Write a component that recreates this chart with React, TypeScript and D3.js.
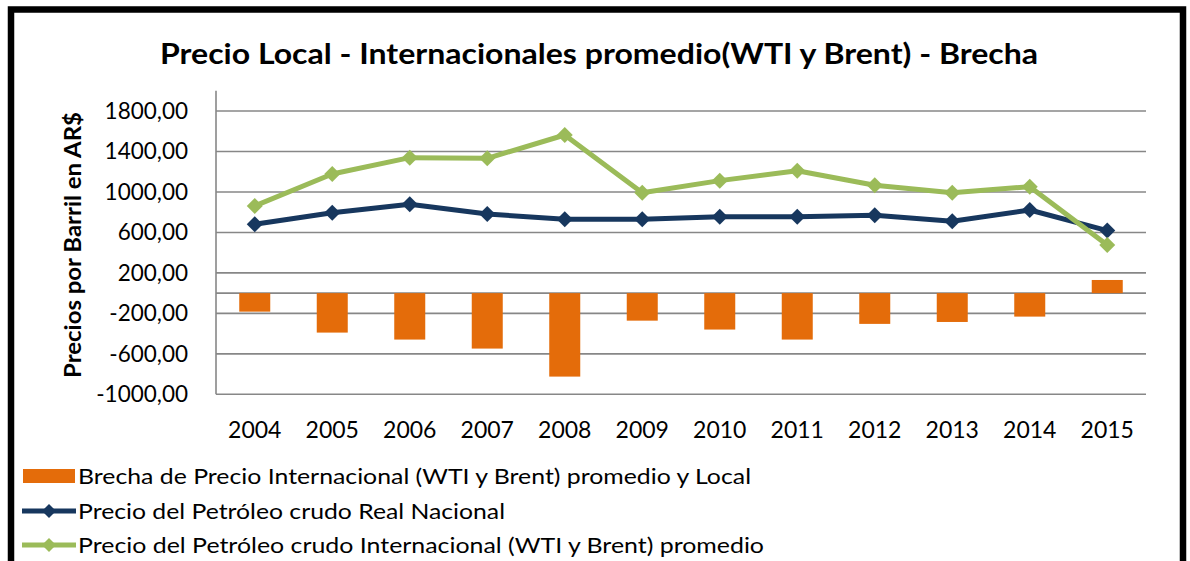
import React from "react";
import * as d3 from "d3";

// data
const years = ["2004", "2005", "2006", "2007", "2008", "2009", "2010", "2011", "2012", "2013", "2014", "2015"];
const brecha = [-183, -390, -459, -548, -825, -272, -360, -459, -304, -285, -232, 130];
const precioNacional = [681, 795, 878, 782, 730, 730, 756, 756, 770, 710, 822, 618];
const precioInternacional = [862, 1178, 1339, 1333, 1563, 993, 1112, 1210, 1066, 993, 1052, 476];
const yTicks = [-1000, -600, -200, 200, 600, 1000, 1400, 1800];

const legendLabels = [
  "Brecha de Precio Internacional (WTI y Brent) promedio y Local",
  "Precio del Petróleo crudo Real Nacional",
  "Precio del Petróleo crudo Internacional (WTI y Brent) promedio",
];

const ORANGE = "#E46C0A";
const NAVY = "#17375E";
const GREEN = "#9BBB59";
const GRID = "#878787";
const FONT = "Lato, 'Open Sans', sans-serif";

const fmt = d3
  .formatLocale({ decimal: ",", thousands: ".", grouping: [3], currency: ["$", ""], minus: "-" })
  .format(".2f");

const diamond = (cx: number, cy: number, r: number) =>
  `M${cx},${cy - r}L${cx + r},${cy}L${cx},${cy + r}L${cx - r},${cy}Z`;

export default function App() {
  const width = 1190;
  const height = 561;

  const x = d3.scaleBand().domain(years).range([216, 1146]).padding(0);
  const y = d3.scaleLinear().domain([-1000, 2000]).range([394.3, 90.8]);
  const cx = (d: string) => (x(d) as number) + x.bandwidth() / 2;
  const barW = x.bandwidth() * 0.4;

  const line = d3
    .line<number>()
    .x((_, i) => cx(years[i]))
    .y((d) => y(d));

  const legendY = [476, 511, 545];

  return (
    <svg
      width={width}
      height={height}
      style={{ position: "absolute", left: 0, top: 0, background: "#fff" }}
      fontFamily={FONT}
    >
      <rect x={0} y={0} width={width} height={height} fill="#fff" />
      {/* frame */}
      <rect x={11} y={9.5} width={1172} height={700} fill="none" stroke="#000" strokeWidth={6.5} />

      {/* title */}
      <text
        x={599}
        y={64}
        textAnchor="middle"
        fontSize={29}
        fontWeight="bold"
        textLength={878}
        lengthAdjust="spacingAndGlyphs"
      >
        Precio Local - Internacionales promedio(WTI y Brent) - Brecha
      </text>

      {/* y axis title */}
      <text
        transform="translate(81,245) rotate(-90)"
        textAnchor="middle"
        fontSize={22}
        fontWeight="bold"
        textLength={266}
        lengthAdjust="spacingAndGlyphs"
      >
        Precios por Barril en AR$
      </text>

      {/* gridlines */}
      {yTicks.map((t) => (
        <line key={t} x1={216} x2={1146} y1={y(t)} y2={y(t)} stroke={GRID} strokeWidth={1.6} />
      ))}
      <line x1={216} x2={1146} y1={y(0)} y2={y(0)} stroke={GRID} strokeWidth={1.6} />
      <line x1={216} x2={216} y1={y(2000)} y2={y(-1000)} stroke={GRID} strokeWidth={1.6} />

      {/* y tick labels */}
      {yTicks.map((t) => (
        <text key={t} x={188} y={y(t)} dy="0.35em" textAnchor="end" fontSize={22.5}>
          {fmt(t)}
        </text>
      ))}

      {/* x tick labels */}
      {years.map((d) => (
        <text key={d} x={cx(d)} y={438} textAnchor="middle" fontSize={23}>
          {d}
        </text>
      ))}

      {/* bars */}
      {brecha.map((v, i) => (
        <rect
          key={years[i]}
          x={cx(years[i]) - barW / 2}
          y={Math.min(y(v), y(0))}
          width={barW}
          height={Math.abs(y(v) - y(0))}
          fill={ORANGE}
        />
      ))}

      {/* lines */}
      <path d={line(precioNacional) || ""} fill="none" stroke={NAVY} strokeWidth={5} strokeLinejoin="round" />
      {precioNacional.map((v, i) => (
        <path key={i} d={diamond(cx(years[i]), y(v), 8)} fill={NAVY} />
      ))}
      <path d={line(precioInternacional) || ""} fill="none" stroke={GREEN} strokeWidth={5} strokeLinejoin="round" />
      {precioInternacional.map((v, i) => (
        <path key={i} d={diamond(cx(years[i]), y(v), 8)} fill={GREEN} />
      ))}

      {/* legend */}
      <rect x={23} y={469} width={52} height={14} fill={ORANGE} />
      <line x1={22} x2={76} y1={legendY[1]} y2={legendY[1]} stroke={NAVY} strokeWidth={5} />
      <path d={diamond(49, legendY[1], 7)} fill={NAVY} />
      <line x1={22} x2={76} y1={legendY[2]} y2={legendY[2]} stroke={GREEN} strokeWidth={5} />
      <path d={diamond(49, legendY[2], 7)} fill={GREEN} />
      {legendLabels.map((l, i) => (
        <text
          key={l}
          x={78}
          y={legendY[i]}
          dy="0.35em"
          fontSize={22}
          textLength={[673, 427, 686][i]}
          lengthAdjust="spacingAndGlyphs"
        >
          {l}
        </text>
      ))}
    </svg>
  );
}
